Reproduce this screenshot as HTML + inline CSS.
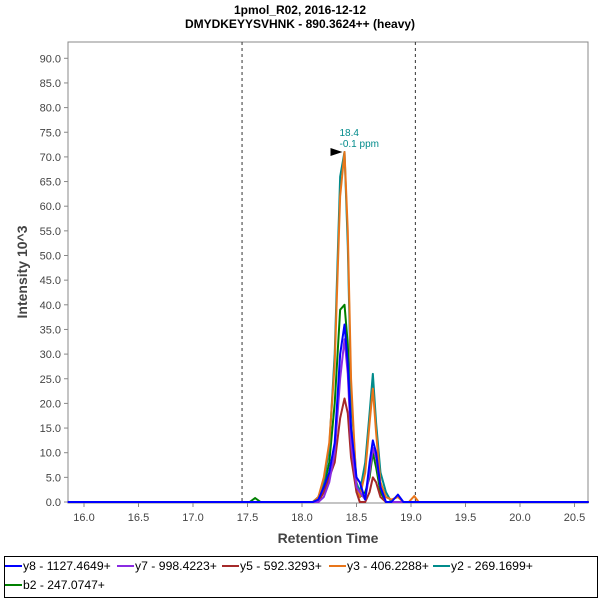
<!DOCTYPE html>
<html><head><meta charset="utf-8"><style>
body{margin:0;background:#fff;font-family:"Liberation Sans",sans-serif}
</style></head><body>
<svg width="600" height="600" xmlns="http://www.w3.org/2000/svg" font-family="Liberation Sans, sans-serif">
<g id="root"></g>
</svg>
<script>
const times=[18.05,18.10,18.15,18.20,18.25,18.30,18.35,18.39,18.42,18.45,18.50,18.53,18.58,18.62,18.65,18.68,18.72,18.77,18.82,18.88,18.93,18.98,19.03,19.07];
const y8=[0,0,0.5,3,6,12,30,36,28,15,5,4,0.5,8,12.5,10,3,0,0,1.5,0,0,0,0];
const y7=[0,0,0,1,4,10,25,33,26,12,3,2,0.5,6,11,9,3,0,0,0,0,0,0,0];
const y5=[0,0,0,2,5,8,17,21,18,9,2,0,0,2,5,4,1,0,0,0,0,0,0,0];
const y3=[0,0,1,5,12,28,62,71,55,25,3,1,6,16,23,14,4,1,0.5,1,0,0,1.2,0];
const y2=[0,0,1,4,11,30,66,71,52,22,4,2,8,18,26,16,6,2,0,0,0,0,0,0];
const b2=[0,0,1,3,8,20,39,40,32,14,2,1,2,5,10,7,2,0,0,0,0,0,0,0];
const seriesNames=["y8 - 1127.4649+","y7 - 998.4223+","y5 - 592.3293+","y3 - 406.2288+","y2 - 269.1699+","b2 - 247.0747+"];
const seriesColors=["#0000ff","#8a2be2","#a52a2a","#e8751a","#008b8b","#008000"];
const seriesData=[y8,y7,y5,y3,y2,b2];
const xTicks=[16.0,16.5,17.0,17.5,18.0,18.5,19.0,19.5,20.0,20.5];
const yTicks=[0,5,10,15,20,25,30,35,40,45,50,55,60,65,70,75,80,85,90];
const greenBumpT=[17.52,17.57,17.62], greenBumpV=[0,0.8,0];
const NS="http://www.w3.org/2000/svg";
const root=document.getElementById('root');
const L=68,R=588,T=42,B=503;
const X=t=>302+(t-18)*109;
const Y=v=>502-v*4.93;
function mk(tag,attrs,parent){const e=document.createElementNS(NS,tag);for(const k in attrs)e.setAttribute(k,attrs[k]);(parent||root).appendChild(e);return e;}
function txt(s,attrs){const e=mk('text',attrs);e.textContent=s;return e;}
let e;
e=txt("1pmol_R02, 2016-12-12",{x:300,y:14,'text-anchor':'middle','font-size':12,'font-weight':'bold',fill:'#000'});


e=txt("DMYDKEYYSVHNK - 890.3624++ (heavy)",{x:300,y:28,'text-anchor':'middle','font-size':12,'font-weight':'bold',fill:'#000'});


e=mk('rect',{x:L,y:T,width:R-L,height:B-T,fill:'#fff',stroke:'#888'});


xTicks.forEach(t=>{const x=X(t);
mk('line',{x1:x,x2:x,y1:B,y2:B+4,stroke:'#888'});
e=txt(t.toFixed(1),{x:x,y:B+18,'text-anchor':'middle','font-size':11,fill:'#444'});

});
yTicks.forEach(v=>{const y=Y(v);
mk('line',{x1:L-4,x2:L,y1:y,y2:y,stroke:'#888'});
e=txt(v.toFixed(1),{x:L-7,y:y+4,'text-anchor':'end','font-size':11,fill:'#444'});

});
e=txt("Retention Time",{x:328,y:543,'text-anchor':'middle','font-size':14,'font-weight':'bold',fill:'#444'});


e=txt("Intensity 10^3",{x:0,y:0,'text-anchor':'middle','font-size':14,'font-weight':'bold',fill:'#444',transform:'translate(27,272) rotate(-90)'});


[17.45,19.04].forEach(t=>{e=mk('line',{x1:X(t),x2:X(t),y1:T,y2:B,stroke:'#333','stroke-dasharray':'3,3'});

});
e=mk('polyline',{points:greenBumpT.map((t,i)=>X(t)+','+Y(greenBumpV[i])).join(' '),fill:'none',stroke:seriesColors[5],'stroke-width':2});


[5,4,3,2,1,0].forEach(i=>{
const pts=[[X(15.85),Y(0)]].concat(times.map((t,j)=>[X(t),Y(seriesData[i][j])])).concat([[X(20.63),Y(0)]]);
e=mk('polyline',{points:pts.map(p=>p.join(',')).join(' '),fill:'none',stroke:seriesColors[i],'stroke-width':2,'stroke-linejoin':'round'});

});
const px=X(18.39),py=Y(71);
e=mk('polygon',{points:`${px-2},${py} ${px-14},${py-4} ${px-14},${py+4}`,fill:'#000'});


e=txt("18.4",{x:px-5,y:py-16,'font-size':10,fill:'#008b8b'});


e=txt("-0.1 ppm",{x:px-5,y:py-5,'font-size':10,fill:'#008b8b'});


e=mk('rect',{x:4.5,y:556.5,width:593,height:41,fill:'#fff',stroke:'#000'});


const lx=[5,117,222,329,433,5], ly=[570,570,570,570,570,589];
seriesNames.forEach((n,i)=>{
mk('line',{x1:lx[i],x2:lx[i]+17,y1:ly[i]-4,y2:ly[i]-4,stroke:seriesColors[i],'stroke-width':2});
e=txt(n,{x:lx[i]+18,y:ly[i],'font-size':11.5,fill:'#000','textLength':n.length*5.85,'lengthAdjust':'spacingAndGlyphs'});

});
</script>
</body></html>
